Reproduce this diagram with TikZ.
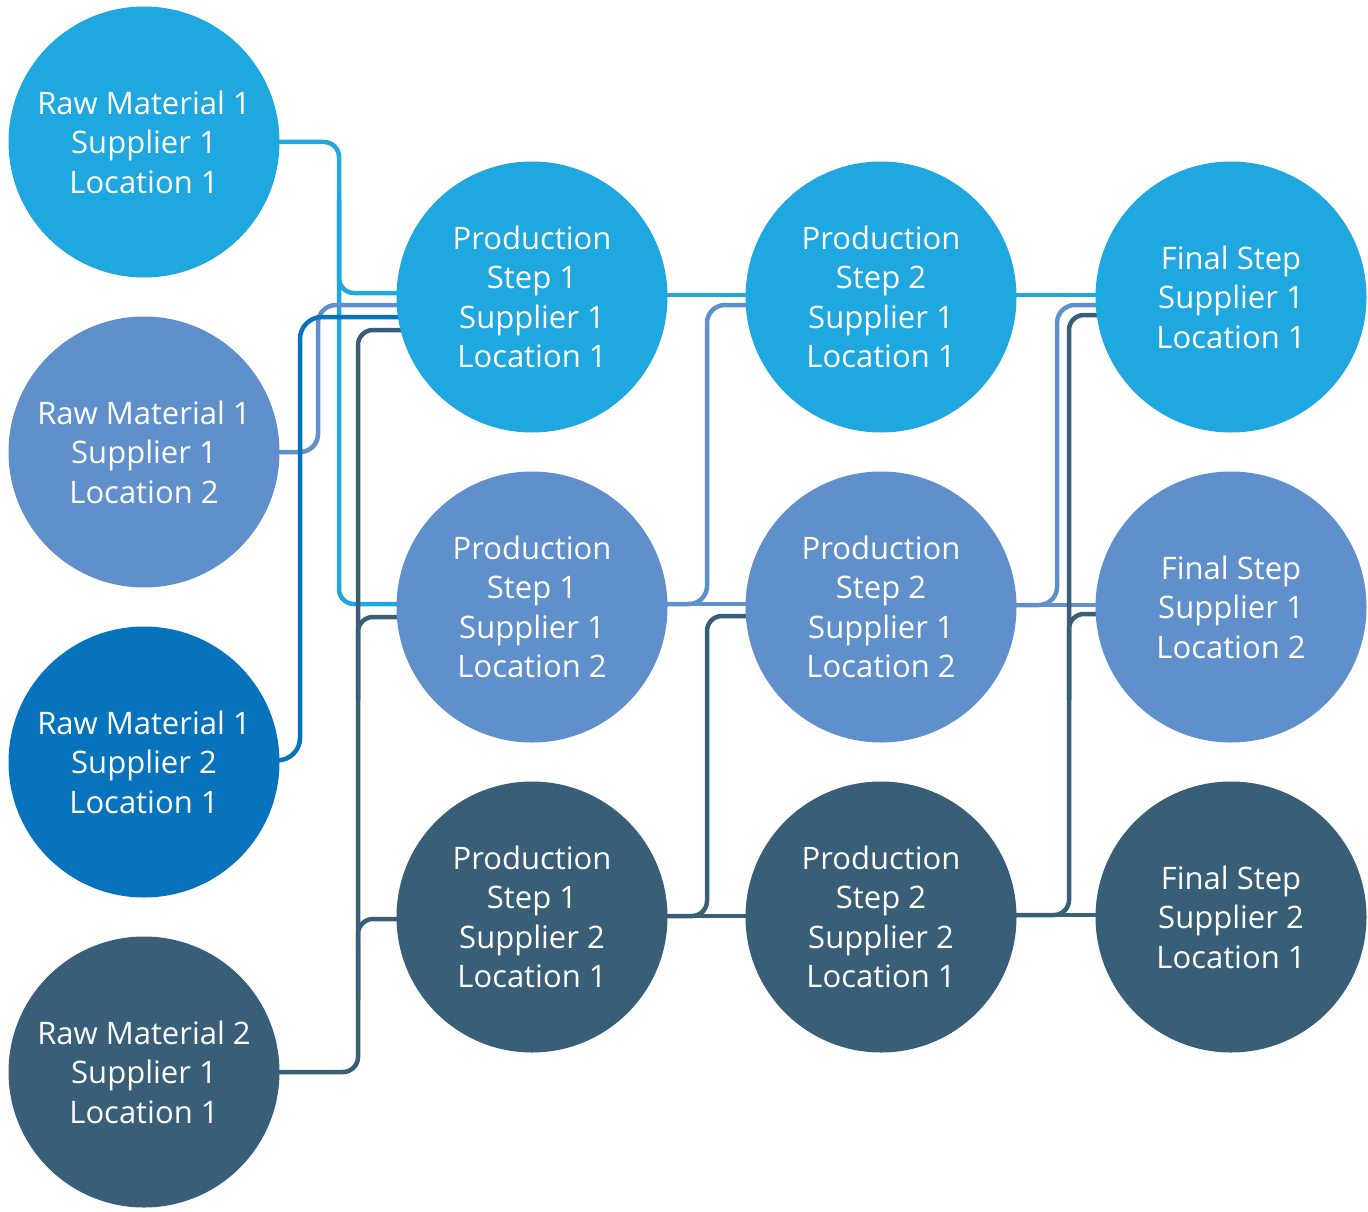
\documentclass[tikz,border=0pt]{standalone}
\usepackage{fontspec}
\setmainfont{Open Sans}
\usetikzlibrary{backgrounds}
\definecolor{cA}{RGB}{31,167,224}
\definecolor{cB}{RGB}{96,144,204}
\definecolor{cC}{RGB}{6,115,188}
\definecolor{cD}{RGB}{56,94,120}
\begin{document}
\begin{tikzpicture}[x=1pt,y=-1pt,
  bub/.style={circle,minimum size=271pt,inner sep=0pt,text=white,align=center,
    font=\fontsize{31}{39.5}\selectfont},
  lnA/.style={draw=cA,line width=4.5pt,rounded corners=15pt},
  lnB/.style={draw=cB,line width=4.5pt,rounded corners=18pt},
  lnC/.style={draw=cC,line width=4.5pt,rounded corners=22pt},
  lnD/.style={draw=cD,line width=4.5pt,rounded corners=15pt}]
\useasboundingbox (0,0) rectangle (1368,1212);
% column 1
\node[bub,fill=cA] (r1) at (144,142) {Raw Material 1\\Supplier 1\\Location 1};
\node[bub,fill=cB] (r2) at (144,452) {Raw Material 1\\Supplier 1\\Location 2};
\node[bub,fill=cC] (r3) at (144,762) {Raw Material 1\\Supplier 2\\Location 1};
\node[bub,fill=cD] (r4) at (144,1072) {Raw Material 2\\Supplier 1\\Location 1};
% column 2
\node[bub,fill=cA] (p11) at (532,297) {Production\\Step 1\\Supplier 1\\Location 1};
\node[bub,fill=cB] (p12) at (532,607) {Production\\Step 1\\Supplier 1\\Location 2};
\node[bub,fill=cD] (p13) at (532,917) {Production\\Step 1\\Supplier 2\\Location 1};
% column 3
\node[bub,fill=cA] (p21) at (881,297) {Production\\Step 2\\Supplier 1\\Location 1};
\node[bub,fill=cB] (p22) at (881,607) {Production\\Step 2\\Supplier 1\\Location 2};
\node[bub,fill=cD] (p23) at (881,917) {Production\\Step 2\\Supplier 2\\Location 1};
% column 4
\node[bub,fill=cA] (f1) at (1231,297) {Final Step\\Supplier 1\\Location 1};
\node[bub,fill=cB] (f2) at (1231,607) {Final Step\\Supplier 1\\Location 2};
\node[bub,fill=cD] (f3) at (1231,917) {Final Step\\Supplier 2\\Location 1};
\begin{pgfonlayer}{background}
% left connectors
\draw[lnA] (r1.center) -- (339,142) -- (339,293) -- (p11.center |- 0,293);
\draw[lnA] (339,200) -- (339,604) -- (p12.center |- 0,604);
\draw[lnB] (r2.center) -- (318,452) -- (318,305) -- (p11.center |- 0,305);
\draw[lnC] (r3.center) -- (300,760) -- (300,317) -- (p11.center |- 0,317);
\draw[lnD] (r4.center) -- (358,1072) -- (358,330) -- (p11.center |- 0,330);
\draw[lnD] (p12.center |- 0,617) -- (358,617) -- (358,700);
\draw[lnD] (p13.center |- 0,919) -- (358,919) -- (358,1000);
% middle connectors
\draw[lnA] (p11.center |- 0,295) -- (p21.center |- 0,295);
\draw[lnB] (p12.center |- 0,604) -- (p22.center |- 0,604);
\draw[lnB] (p12.center |- 0,604) -- (707,604) -- (707,305) -- (p21.center |- 0,305);
\draw[lnD] (p13.center |- 0,916) -- (p23.center |- 0,916);
\draw[lnD] (p13.center |- 0,916) -- (707,916) -- (707,616) -- (p22.center |- 0,616);
% right connectors
\draw[lnA] (p21.center |- 0,295) -- (f1.center |- 0,295);
\draw[lnB] (p22.center |- 0,605) -- (f2.center |- 0,605);
\draw[lnB] (p22.center |- 0,605) -- (1057,605) -- (1057,305) -- (f1.center |- 0,305);
\draw[lnD] (p23.center |- 0,915) -- (f3.center |- 0,915);
\draw[lnD] (p23.center |- 0,915) -- (1069,915) -- (1069,315) -- (f1.center |- 0,315);
\draw[lnD] (f2.center |- 0,614) -- (1069,614) -- (1069,700);
\end{pgfonlayer}
\end{tikzpicture}
\end{document}
